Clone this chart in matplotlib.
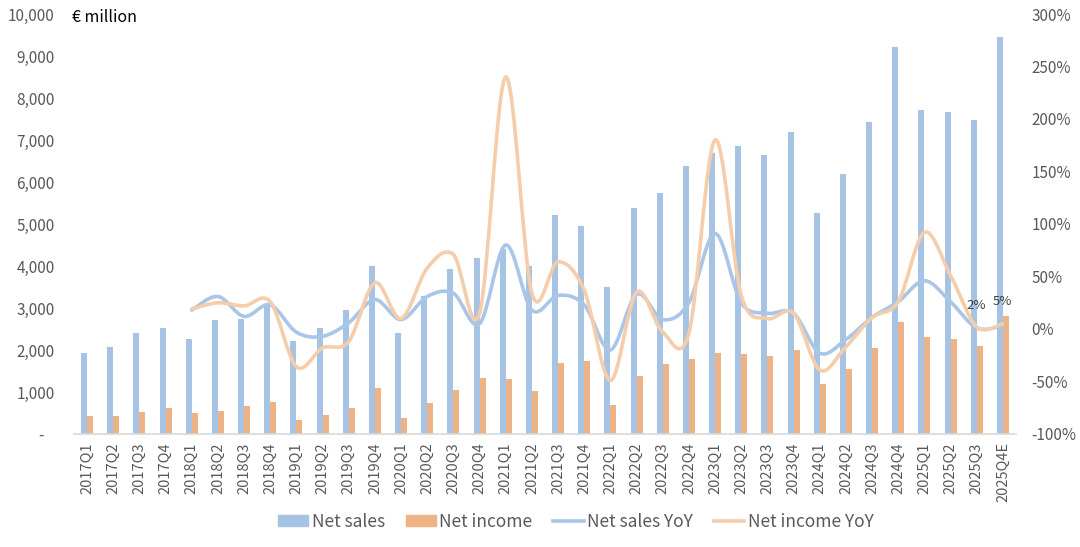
import numpy as np
import matplotlib
matplotlib.use("Agg")
import matplotlib.pyplot as plt
from matplotlib.path import Path
from matplotlib.patches import PathPatch, Patch
from matplotlib.lines import Line2D
from matplotlib.ticker import FuncFormatter, MultipleLocator

plt.rcParams['font.family'] = ['Noto Sans CJK SC', 'DejaVu Sans']

# 季度
quarters = ['2017Q1', '2017Q2', '2017Q3', '2017Q4',
            '2018Q1', '2018Q2', '2018Q3', '2018Q4',
            '2019Q1', '2019Q2', '2019Q3', '2019Q4',
            '2020Q1', '2020Q2', '2020Q3', '2020Q4',
            '2021Q1', '2021Q2', '2021Q3', '2021Q4',
            '2022Q1', '2022Q2', '2022Q3', '2022Q4',
            '2023Q1', '2023Q2', '2023Q3', '2023Q4',
            '2024Q1', '2024Q2', '2024Q3', '2024Q4',
            '2025Q1', '2025Q2', '2025Q3', '2025Q4E']

# € million
net_sales = [1920, 2070, 2410, 2530, 2260, 2710, 2740, 3080,
             2210, 2530, 2960, 3990, 2410, 3290, 3940, 4200,
             4410, 3990, 5210, 4950, 3500, 5390, 5740, 6390,
             6700, 6860, 6640, 7200, 5260, 6200, 7430, 9220,
             7710, 7660, 7480, 9460]
net_income = [440, 430, 530, 620, 510, 550, 660, 760,
              330, 450, 610, 1100, 370, 730, 1040, 1330,
              1310, 1020, 1700, 1740, 680, 1380, 1670, 1790,
              1920, 1900, 1850, 2010, 1180, 1550, 2050, 2670,
              2320, 2250, 2100, 2800]

# YoY (%)，从 2018Q1 开始
sales_yoy = [18, 31, 12, 23, -3, -7, 6, 28, 9, 31, 34, 5,
             80, 18, 32, 23, -20, 33, 9, 25, 91, 25, 15, 15,
             -23, -10, 11, 26, 46, 26, 1, 3]
income_yoy = [19, 25, 22, 26, -36, -18, -12, 44, 10, 58, 71, 15,
              240, 34, 64, 37, -49, 35, -3, -4, 180, 32, 10, 15,
              -39, -17, 11, 26, 92, 51, 2, 5]

c_sales = '#A6C3E4'
c_income = '#EDB384'
c_sales_line = '#A9C6E8'
c_income_line = '#F5CDAB'
grey = '#595959'


def smooth_patch(xs, ys, color):
    # Excel 风格的平滑曲线（Catmull-Rom -> 贝塞尔）
    pts = np.column_stack([xs, ys]).astype(float)
    n = len(pts)
    verts = [pts[0]]
    codes = [Path.MOVETO]
    for i in range(n - 1):
        p0 = pts[i - 1] if i > 0 else pts[i]
        p1 = pts[i]
        p2 = pts[i + 1]
        p3 = pts[i + 2] if i + 2 < n else pts[i + 1]
        verts += [p1 + (p2 - p0) / 6, p2 - (p3 - p1) / 6, p2]
        codes += [Path.CURVE4] * 3
    return PathPatch(Path(verts, codes), facecolor='none', edgecolor=color,
                     lw=2.6, capstyle='round', joinstyle='round')


fig = plt.figure(figsize=(10.8, 5.47), dpi=100)
ax = fig.add_axes([0.0685, 0.2066, 0.8722, 0.7678])
ax2 = ax.twinx()

x = np.arange(len(quarters))
w = 0.23
ax.bar(x - w / 2, net_sales, width=w, color=c_sales)
ax.bar(x + w / 2, net_income, width=w, color=c_income)

x_yoy = x[4:]
ax2.add_patch(smooth_patch(x_yoy, sales_yoy, c_sales_line))
ax2.add_patch(smooth_patch(x_yoy, income_yoy, c_income_line))

# 数据标签
for i in [-2, -1]:
    ax2.annotate(f'{income_yoy[i]}%', (x_yoy[i], income_yoy[i]),
                 xytext=(0, 11), textcoords='offset points',
                 ha='center', va='bottom', fontsize=9.5, color='#404040')

ax.set_xlim(-0.5, len(quarters) - 0.5)
ax.set_ylim(0, 10000)
ax2.set_ylim(-100, 300)
ax.yaxis.set_major_locator(MultipleLocator(1000))
ax2.yaxis.set_major_locator(MultipleLocator(50))
ax.yaxis.set_major_formatter(FuncFormatter(lambda v, p: '-   ' if v == 0 else f'{int(v):,}'))
ax2.yaxis.set_major_formatter(FuncFormatter(lambda v, p: f'{int(v)}%'))

ax.set_xticks(x)
ax.set_xticklabels(quarters, rotation=90)
ax.tick_params(axis='x', length=0, pad=6, labelsize=10.5, labelcolor=grey)
ax.tick_params(axis='y', length=0, pad=14, labelsize=11, labelcolor=grey)
ax2.tick_params(axis='y', length=0, pad=11, labelsize=11, labelcolor=grey)

for a in (ax, ax2):
    for s in ['top', 'left', 'right', 'bottom']:
        a.spines[s].set_visible(False)
ax.spines['bottom'].set_visible(True)
ax.spines['bottom'].set_color('#D9D9D9')
ax.spines['bottom'].set_linewidth(1.2)

fig.text(0.067, 0.968, '€ million', fontsize=11.5, color='black', ha='left', va='center')

handles = [Patch(color=c_sales), Patch(color=c_income),
           Line2D([], [], color=c_sales_line, lw=2.6),
           Line2D([], [], color=c_income_line, lw=2.6)]
labels = ['Net sales', 'Net income', 'Net sales YoY', 'Net income YoY']
fig.legend(handles, labels, loc='center', bbox_to_anchor=(0.533, 0.046), ncol=4,
           frameon=False, fontsize=12.5, handlelength=1.75, handleheight=0.55,
           handletextpad=0.2, columnspacing=1.2, labelcolor=grey)

fig.savefig('out.png', dpi=100)
